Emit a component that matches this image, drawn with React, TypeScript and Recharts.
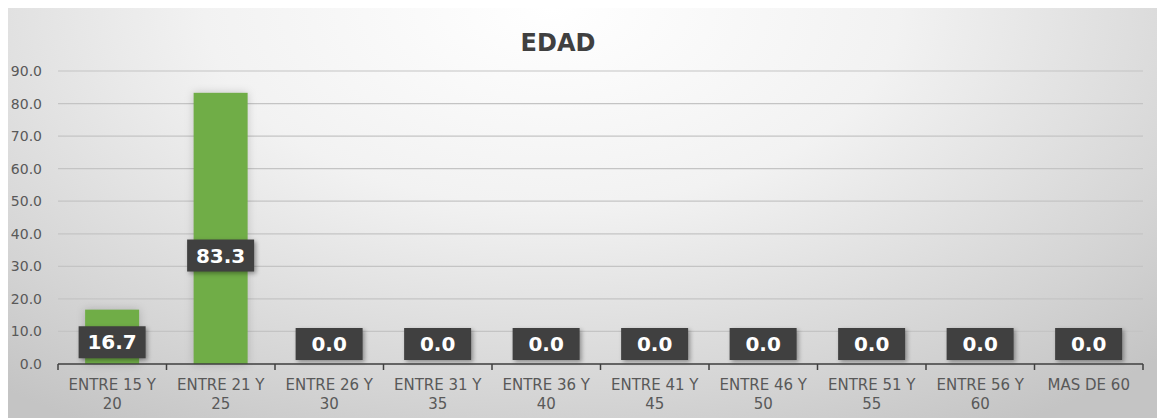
import { BarChart, Bar, XAxis, YAxis, CartesianGrid } from 'recharts';

const categories = [
    'ENTRE 15 Y 20',
    'ENTRE 21 Y 25',
    'ENTRE 26 Y 30',
    'ENTRE 31 Y 35',
    'ENTRE 36 Y 40',
    'ENTRE 41 Y 45',
    'ENTRE 46 Y 50',
    'ENTRE 51 Y 55',
    'ENTRE 56 Y 60',
    'MAS DE 60',
];
const percentages = [16.7, 83.3, 0, 0, 0, 0, 0, 0, 0, 0];
const yTicks = [0, 10, 20, 30, 40, 50, 60, 70, 80, 90];

const data = categories.map((name, i) => ({ name, value: percentages[i] }));

const W = 1157;
const H = 410;
const FONT = "'DejaVu Sans', 'Open Sans', sans-serif";

function wrapLabel(text: string) {
    if (text.length <= 10) return [text];
    const cut = text.lastIndexOf(' ');
    return [text.slice(0, cut), text.slice(cut + 1)];
}

function CategoryTick(props: any) {
    const { x, y, payload, index, width } = props;
    const bw = width / categories.length;
    const lines = wrapLabel(payload.value);
    // y sits 8px below the axis line (tick size + margin)
    const top = y - 8;
    return (
        <g>
            <line x1={x - bw / 2} x2={x - bw / 2} y1={top} y2={top + 6} stroke="#404040" strokeWidth={1.5} />
            {index === categories.length - 1 && (
                <line x1={x + bw / 2} x2={x + bw / 2} y1={top} y2={top + 6} stroke="#404040" strokeWidth={1.5} />
            )}
            {lines.map((l, i) => (
                <text key={i} x={x} y={y + 18 + i * 19} textAnchor="middle" fill="#595959" fontSize={15} fontFamily={FONT}>
                    {l}
                </text>
            ))}
        </g>
    );
}

// bar plus its dark value label (drawn here so that 0 values get a label too)
function BarWithLabel(props: any) {
    const { x, y, width, height, fill, value } = props;
    const v = Array.isArray(value) ? value[1] - value[0] : value;
    const h = Math.max(0, height || 0);
    const cx = x + width / 2;
    const cy = Math.min(y + h * 0.6, y + h - 20);
    const bw = 67;
    const bh = 32;
    return (
        <g>
            {h > 0 && (
                <rect
                    x={x}
                    y={y}
                    width={width}
                    height={h}
                    fill={fill}
                    style={{ filter: 'drop-shadow(0px 0px 4px rgba(0,0,0,0.18))' }}
                />
            )}
            <rect
                x={cx - bw / 2}
                y={cy - bh / 2}
                width={bw}
                height={bh}
                fill="#404040"
                style={{ filter: 'drop-shadow(2px 2px 2px rgba(0,0,0,0.35))' }}
            />
            <text x={cx} y={cy + 7} textAnchor="middle" fill="#ffffff" fontSize={20} fontWeight={700} fontFamily={FONT}>
                {Number(v).toFixed(1)}
            </text>
        </g>
    );
}

export default function App() {
    return (
        <div
            style={{
                position: 'relative',
                width: W,
                height: H,
                background: 'radial-gradient(ellipse 75% 120% at 47% 0%, #ffffff 0%, #f2f2f2 40%, #d4d4d4 80%, #c4c4c4 100%)',
            }}
        >
            <div
                style={{
                    position: 'absolute',
                    top: 21,
                    left: 450,
                    width: 200,
                    textAlign: 'center',
                    fontFamily: FONT,
                    fontWeight: 700,
                    fontSize: 24,
                    color: '#404040',
                }}
            >
                EDAD
            </div>
            <BarChart
                width={W}
                height={H}
                data={data}
                margin={{ top: 63, right: 22, bottom: 0, left: 0 }}
                barCategoryGap="25%"
            >
                <CartesianGrid vertical={false} stroke="#c4c4c4" strokeWidth={1.2} />
                <XAxis
                    dataKey="name"
                    interval={0}
                    tickLine={false}
                    axisLine={{ stroke: '#404040', strokeWidth: 1.5 }}
                    tick={<CategoryTick />}
                    height={54}
                />
                <YAxis
                    width={50}
                    domain={[0, 90]}
                    ticks={yTicks}
                    tickFormatter={(v: number) => v.toFixed(1)}
                    axisLine={false}
                    tickLine={false}
                    tickSize={0}
                    tickMargin={16}
                    tick={{ fill: '#595959', fontSize: 14, fontFamily: FONT }}
                />
                <Bar dataKey="value" fill="#70ad47" isAnimationActive={false} shape={<BarWithLabel />} />
            </BarChart>
        </div>
    );
}
